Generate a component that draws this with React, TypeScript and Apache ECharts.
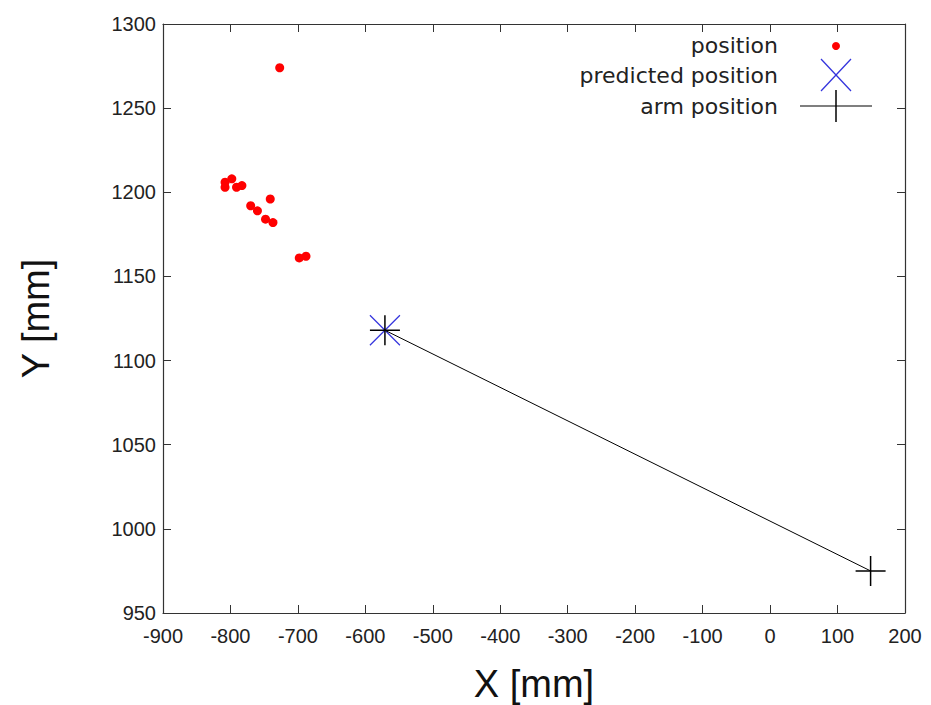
import React, { useEffect, useRef } from "react";
import * as echarts from "echarts";

const positionX = [-727, -808, -808, -798, -791, -783, -741, -770, -760, -748, -737, -698, -688];
const positionY = [1274, 1206, 1203, 1208, 1203, 1204, 1196, 1192, 1189, 1184, 1182, 1161, 1162];
const predictedX = [-571];
const predictedY = [1118];
const armX = [149, -571];
const armY = [975, 1118];
const xTicks = { min: -900, max: 200, interval: 100 };
const yTicks = { min: 950, max: 1300, interval: 50 };

const CROSS = "path://M0 0L2 2M2 0L0 2";
const PLUS = "path://M1 0L1 2M0 1L2 1";

export default function App() {
  const ref = useRef<HTMLDivElement>(null);
  useEffect(() => {
    const chart = echarts.init(ref.current!, null, { renderer: "svg" });
    const font = "Liberation Sans, Arial, sans-serif";
    const legendFont = "DejaVu Sans, sans-serif";
    const axisCommon = {
      type: "value" as const,
      axisLine: { show: true, onZero: false, lineStyle: { color: "#333", width: 1.2 } },
      axisTick: { show: true, inside: true, length: 8, lineStyle: { color: "#333" } },
      splitLine: { show: false },
    };
    const legendTextX = 778;
    const sampleX = 836;
    const rows = [45, 75, 106];
    chart.setOption({
      animation: false,
      backgroundColor: "#fff",
      grid: { left: 163, top: 24, right: 26, bottom: 92, containLabel: false, outerBoundsMode: "none" },
      xAxis: [
        {
          ...axisCommon,
          ...xTicks,
          position: "bottom",
          name: "X [mm]",
          nameLocation: "middle",
          nameGap: 52,
          nameTextStyle: { fontSize: 38, color: "#111", fontFamily: font },
          axisLabel: { fontSize: 20, color: "#222", margin: 13, fontFamily: font, formatter: (v: number) => String(v) },
        },
        {
          ...axisCommon,
          ...xTicks,
          position: "top",
          axisLabel: { show: false },
        },
      ],
      yAxis: [
        {
          ...axisCommon,
          ...yTicks,
          position: "left",
          name: "Y [mm]",
          nameLocation: "middle",
          nameGap: 108,
          nameRotate: 90,
          nameTextStyle: { fontSize: 38, color: "#111", fontFamily: font },
          axisLabel: { fontSize: 20, color: "#222", margin: 7, fontFamily: font, formatter: (v: number) => String(v) },
        },
        {
          ...axisCommon,
          ...yTicks,
          position: "right",
          axisLabel: { show: false },
        },
      ],
      series: [
        {
          name: "position",
          type: "scatter",
          data: positionX.map((x, i) => [x, positionY[i]]),
          symbol: "circle",
          symbolSize: 9,
          itemStyle: { color: "#ff0000", opacity: 1 },
        },
        {
          name: "predicted position",
          type: "scatter",
          data: predictedX.map((x, i) => [x, predictedY[i]]),
          symbol: CROSS,
          symbolSize: 30,
          itemStyle: { color: "rgba(0,0,0,0)", borderColor: "#3333dd", borderWidth: 1.2, opacity: 1 },
        },
        {
          name: "arm position",
          type: "line",
          data: armX.map((x, i) => [x, armY[i]]),
          symbol: PLUS,
          symbolSize: 30,
          showSymbol: true,
          lineStyle: { color: "#000", width: 1 },
          itemStyle: { color: "rgba(0,0,0,0)", borderColor: "#000", borderWidth: 1.5 },
        },
      ],
      graphic: [
        { type: "text", x: legendTextX, y: rows[0], style: { text: "position", align: "right", verticalAlign: "middle", fontSize: 22, fill: "#222", fontFamily: legendFont } },
        { type: "text", x: legendTextX, y: rows[1], style: { text: "predicted position", align: "right", verticalAlign: "middle", fontSize: 22, fill: "#222", fontFamily: legendFont } },
        { type: "text", x: legendTextX, y: rows[2], style: { text: "arm position", align: "right", verticalAlign: "middle", fontSize: 22, fill: "#222", fontFamily: legendFont } },
        { type: "circle", shape: { cx: sampleX, cy: rows[0] + 1, r: 4 }, style: { fill: "#ff0000" } },
        { type: "line", shape: { x1: sampleX - 15, y1: rows[1] - 16, x2: sampleX + 15, y2: rows[1] + 16 }, style: { stroke: "#3333dd", lineWidth: 1.2 } },
        { type: "line", shape: { x1: sampleX - 15, y1: rows[1] + 16, x2: sampleX + 15, y2: rows[1] - 16 }, style: { stroke: "#3333dd", lineWidth: 1.2 } },
        { type: "line", shape: { x1: sampleX - 36, y1: rows[2], x2: sampleX + 36, y2: rows[2] }, style: { stroke: "#000", lineWidth: 1.2 } },
        { type: "line", shape: { x1: sampleX, y1: rows[2] - 16, x2: sampleX, y2: rows[2] + 16 }, style: { stroke: "#000", lineWidth: 1.5 } },
      ],
    });
    return () => chart.dispose();
  }, []);
  return (
    <div
      ref={ref}
      style={{ position: "absolute", left: 0, top: 0, width: 931, height: 705 }}
    />
  );
}
